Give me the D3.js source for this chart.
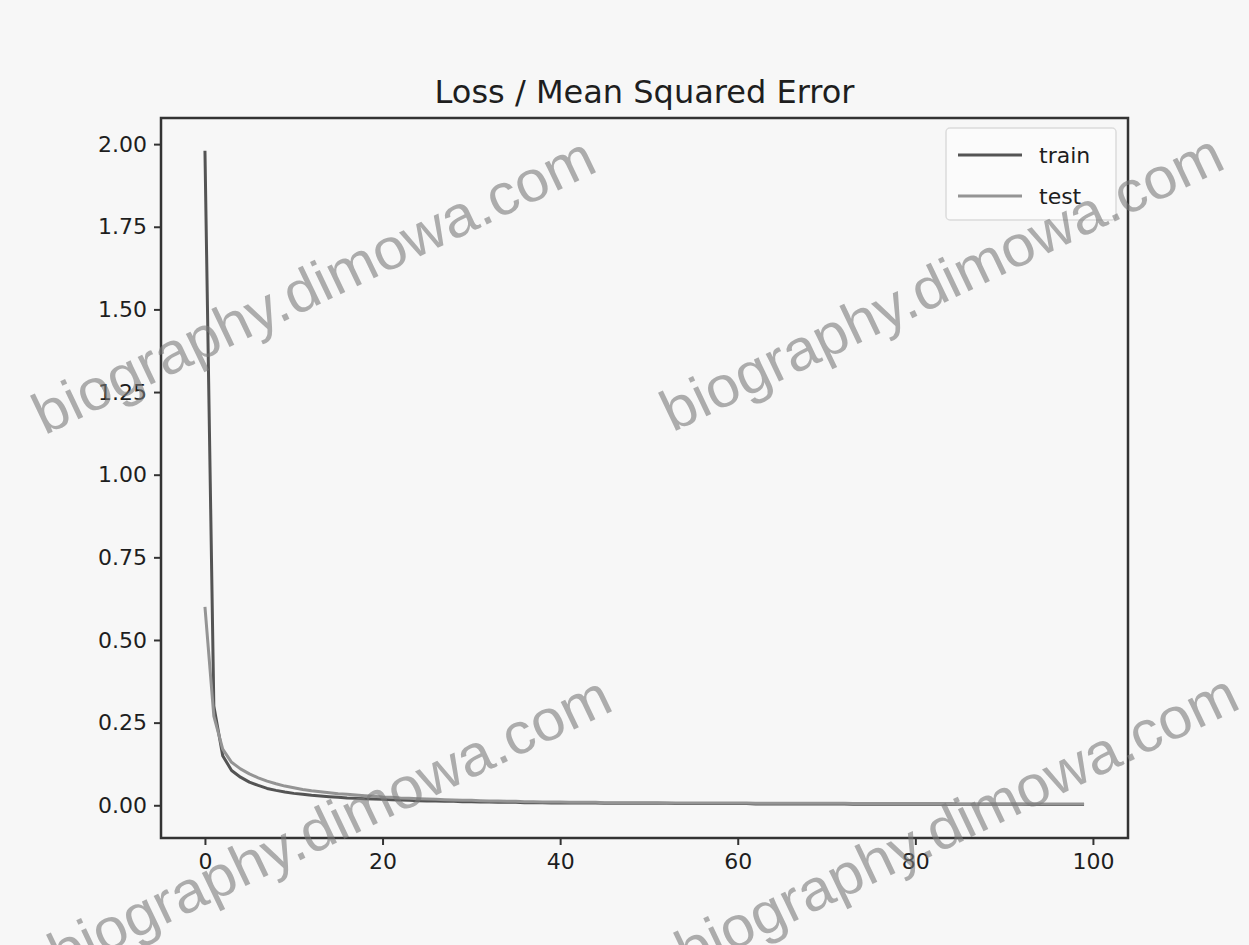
<!DOCTYPE html>
<html>
<head>
<meta charset="utf-8">
<script src="https://cdn.jsdelivr.net/npm/d3@7"></script>
<style>
  body { margin: 0; background: #f7f7f7; }
  svg { display: block; }
  .tick text { font-family: "DejaVu Sans", sans-serif; font-size: 22px; fill: #1e1e1e; }
</style>
</head>
<body>
<svg id="chart" width="1249" height="945"></svg>
<script>
// epochs 0..99
const epochs = d3.range(0, 100);

const trainLoss = [
  1.98, 0.30, 0.15, 0.105, 0.085, 0.070, 0.060, 0.051, 0.045, 0.040,
  0.036, 0.033, 0.030, 0.028, 0.026, 0.024, 0.022, 0.021, 0.020, 0.019,
  0.018, 0.017, 0.016, 0.015, 0.014, 0.013, 0.013, 0.012, 0.012, 0.011,
  0.011, 0.010, 0.010, 0.009, 0.009, 0.009, 0.008, 0.008, 0.008, 0.007,
  0.007, 0.007, 0.007, 0.007, 0.007, 0.006, 0.006, 0.006, 0.006, 0.006,
  0.006, 0.006, 0.006, 0.005, 0.005, 0.005, 0.005, 0.005, 0.005, 0.005,
  0.005, 0.005, 0.004, 0.004, 0.004, 0.004, 0.004, 0.004, 0.004, 0.004,
  0.004, 0.004, 0.004, 0.003, 0.003, 0.003, 0.003, 0.003, 0.003, 0.003,
  0.003, 0.003, 0.003, 0.003, 0.003, 0.003, 0.003, 0.003, 0.003, 0.003,
  0.003, 0.003, 0.003, 0.002, 0.002, 0.002, 0.002, 0.002, 0.002, 0.002
];

const testLoss = [
  0.60, 0.27, 0.17, 0.13, 0.11, 0.095, 0.083, 0.073, 0.065, 0.058,
  0.053, 0.048, 0.044, 0.041, 0.038, 0.035, 0.033, 0.031, 0.029, 0.027,
  0.025, 0.024, 0.022, 0.021, 0.020, 0.019, 0.018, 0.017, 0.016, 0.015,
  0.015, 0.014, 0.013, 0.013, 0.012, 0.012, 0.011, 0.011, 0.010, 0.010,
  0.010, 0.009, 0.009, 0.009, 0.009, 0.008, 0.008, 0.008, 0.008, 0.008,
  0.008, 0.008, 0.007, 0.007, 0.007, 0.007, 0.007, 0.007, 0.007, 0.007,
  0.007, 0.007, 0.006, 0.006, 0.006, 0.006, 0.006, 0.006, 0.006, 0.006,
  0.006, 0.006, 0.006, 0.005, 0.005, 0.005, 0.005, 0.005, 0.005, 0.005,
  0.005, 0.005, 0.005, 0.005, 0.005, 0.004, 0.004, 0.004, 0.004, 0.004,
  0.004, 0.004, 0.004, 0.004, 0.004, 0.004, 0.004, 0.004, 0.004, 0.004
];

const xTicks = [0, 20, 40, 60, 80, 100];
const yTicks = [0, 0.25, 0.5, 0.75, 1.0, 1.25, 1.5, 1.75, 2.0];
const seriesNames = ["train", "test"];
const seriesColors = ["#545454", "#949494"];
const watermark = "biography.dimowa.com";

const svg = d3.select("#chart");
const box = {left: 161, right: 1128, top: 118, bottom: 838};

// matplotlib style 5% margins
const xScale = d3.scaleLinear().domain([-4.95, 103.95]).range([box.left, box.right]);
const yScale = d3.scaleLinear().domain([-0.099, 2.079]).range([box.bottom, box.top]);

svg.append("rect").attr("x", 0).attr("y", 0).attr("width", 1249).attr("height", 945).attr("fill", "#f7f7f7");

svg.append("defs").append("clipPath").attr("id", "clip")
  .append("rect").attr("x", box.left).attr("y", box.top)
  .attr("width", box.right - box.left).attr("height", box.bottom - box.top);

const line = d3.line().x(d => xScale(d[0])).y(d => yScale(d[1]));
const series = [trainLoss, testLoss].map(vals => epochs.map((e, i) => [e, vals[i]]));

svg.append("g").attr("clip-path", "url(#clip)")
  .selectAll("path")
  .data(series)
  .join("path")
  .attr("d", line)
  .attr("fill", "none")
  .attr("stroke", (d, i) => seriesColors[i])
  .attr("stroke-width", 3)
  .attr("stroke-linejoin", "round");

// axes
const xAxis = svg.append("g").attr("transform", `translate(0,${box.bottom})`)
  .call(d3.axisBottom(xScale).tickValues(xTicks).tickSize(7).tickPadding(8).tickFormat(d3.format("d")));
const yAxis = svg.append("g").attr("transform", `translate(${box.left},0)`)
  .call(d3.axisLeft(yScale).tickValues(yTicks).tickSize(7).tickPadding(7).tickFormat(d3.format(".2f")));
[xAxis, yAxis].forEach(a => {
  a.select(".domain").remove();
  a.selectAll(".tick line").attr("stroke", "#333").attr("stroke-width", 2);
});

svg.append("rect")
  .attr("x", box.left).attr("y", box.top)
  .attr("width", box.right - box.left).attr("height", box.bottom - box.top)
  .attr("fill", "none").attr("stroke", "#333").attr("stroke-width", 2.5);

svg.append("text")
  .attr("x", (box.left + box.right) / 2).attr("y", 103)
  .attr("text-anchor", "middle")
  .attr("font-family", "DejaVu Sans, sans-serif")
  .attr("font-size", 32)
  .attr("fill", "#1e1e1e")
  .text("Loss / Mean Squared Error");

// legend
const legend = svg.append("g").attr("transform", "translate(946,128)");
legend.append("rect").attr("width", 170).attr("height", 92).attr("rx", 4)
  .attr("fill", "#fbfbfb").attr("stroke", "#dcdcdc").attr("stroke-width", 1.5);
seriesNames.forEach((name, i) => {
  const row = legend.append("g").attr("transform", `translate(0,${27 + i * 41})`);
  row.append("line").attr("x1", 12).attr("x2", 76).attr("y1", 0).attr("y2", 0)
    .attr("stroke", seriesColors[i]).attr("stroke-width", 3);
  row.append("text").attr("x", 93).attr("y", 8)
    .attr("font-family", "DejaVu Sans, sans-serif").attr("font-size", 22).attr("fill", "#1e1e1e")
    .text(name);
});

// watermarks (cut off at the bottom edge, as in the source image)
const marks = [[322, 303], [950, 300], [338, 842], [965, 840]];
svg.append("g").selectAll("text")
  .data(marks)
  .join("text")
  .attr("transform", d => `translate(${d[0]},${d[1]}) rotate(-25.5)`)
  .attr("text-anchor", "middle")
  .attr("font-family", "Liberation Sans, Arial, sans-serif")
  .attr("font-size", 58)
  .attr("textLength", 615)
  .attr("lengthAdjust", "spacingAndGlyphs")
  .attr("fill", "#7a7a7a")
  .attr("fill-opacity", 0.6)
  .text(watermark);
</script>
</body>
</html>
